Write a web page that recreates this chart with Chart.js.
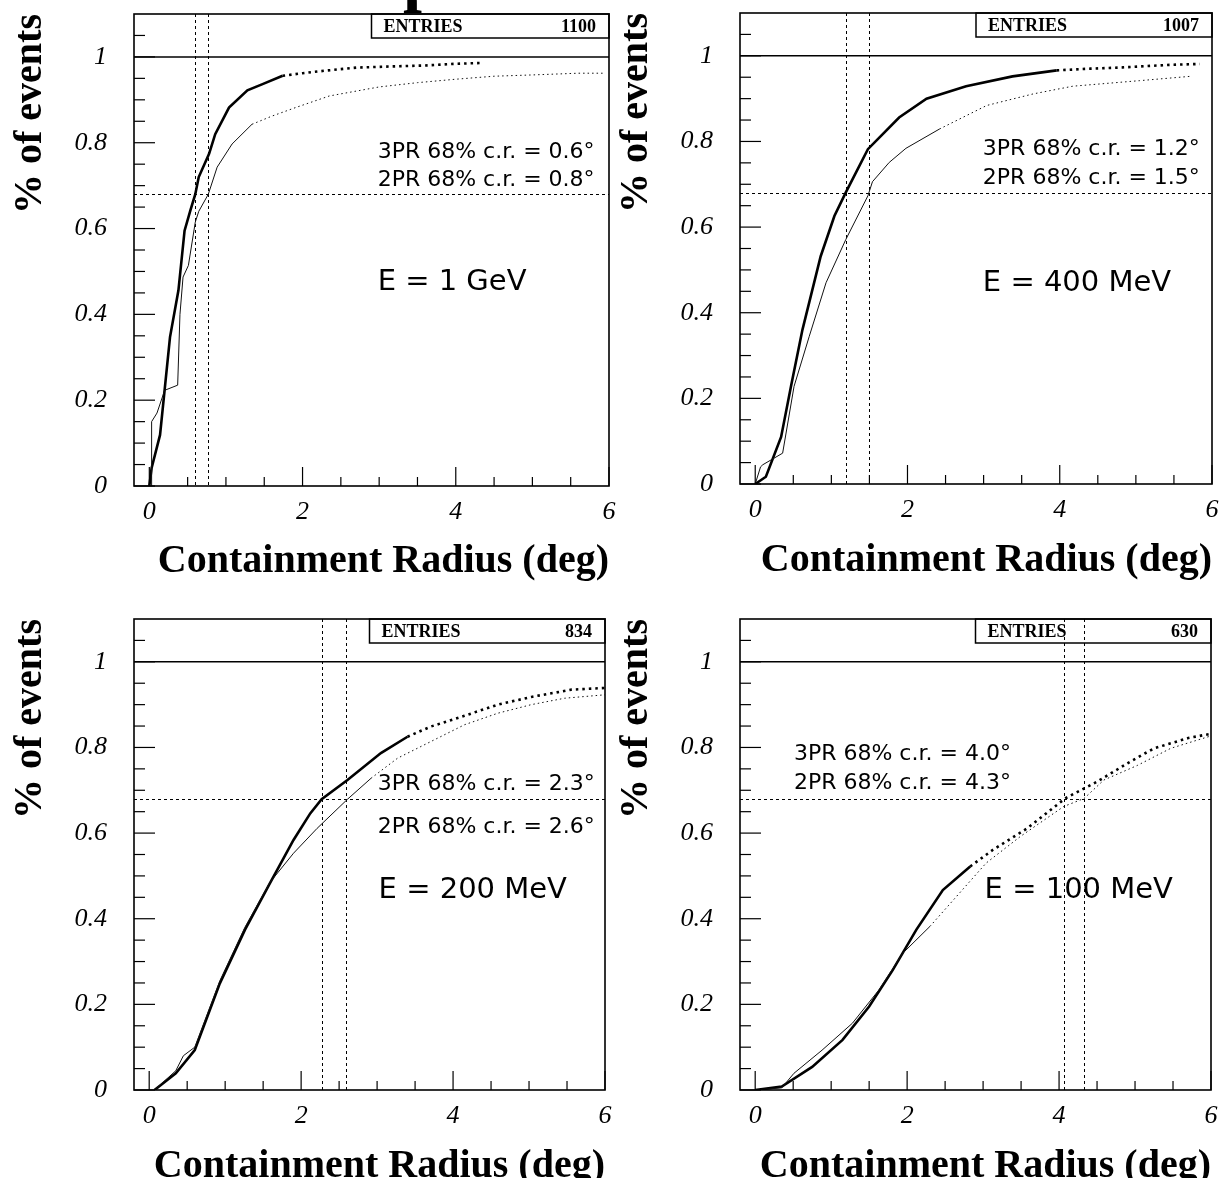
<!DOCTYPE html>
<html>
<head>
<meta charset="utf-8">
<script src="https://cdn.jsdelivr.net/npm/chart.js@4.4.0/dist/chart.umd.min.js"></script>
<style>
html,body{margin:0;padding:0;background:#fff;}
body{width:1222px;height:1178px;overflow:hidden;position:relative;}
canvas{position:absolute;}
#ttl{position:absolute;left:403px;top:-58px;font:bold 68px "Liberation Serif";line-height:68px;color:#000;}
</style>
</head>
<body>
<div id="ttl">p</div>
<canvas id="c0" width="640" height="589"></canvas>
<canvas id="c1" width="640" height="589"></canvas>
<canvas id="c2" width="640" height="589"></canvas>
<canvas id="c3" width="640" height="589"></canvas>
<script>
// ---------- data ----------
const xTickVals = [0, 2, 4, 6];
const xTickLabels = ['0', '2', '4', '6'];
const yTickVals = [0, 0.2, 0.4, 0.6, 0.8, 1];
const yTickLabels = ['0', '0.2', '0.4', '0.6', '0.8', '1'];

const energyLabels = ['E = 1 GeV', 'E = 400 MeV', 'E = 200 MeV', 'E = 100 MeV'];
const entries = ['1100', '1007', '834', '630'];
const cr3Text = ['0.6', '1.2', '2.3', '4.0'];
const cr2Text = ['0.8', '1.5', '2.6', '4.3'];
const cr3Line = [0.6, 1.19, 2.27, 4.07];
const cr2Line = [0.76, 1.49, 2.59, 4.33];
const level68 = 0.68;

// E = 1 GeV
const r3_1GeV_x = [0, 0.03, 0.14, 0.27, 0.38, 0.46, 0.535, 0.60, 0.645, 0.78, 0.86, 1.04, 1.28, 1.47, 1.74, 2.0, 2.3, 2.7, 3.2, 3.6, 4.0, 4.35];
const r3_1GeV_y = [0, 0.042, 0.119, 0.347, 0.456, 0.595, 0.642, 0.68, 0.72, 0.774, 0.82, 0.882, 0.922, 0.936, 0.956, 0.962, 0.968, 0.975, 0.978, 0.98, 0.984, 0.986];
const r2_1GeV_x = [0, 0.03, 0.03, 0.1, 0.2, 0.37, 0.40, 0.44, 0.51, 0.60, 0.645, 0.77, 0.885, 1.08, 1.34, 1.6, 1.91, 2.35, 3.0, 3.5, 4.0, 4.5, 5.0, 5.6, 5.95];
const r2_1GeV_y = [0, 0, 0.15, 0.17, 0.223, 0.235, 0.40, 0.487, 0.514, 0.615, 0.64, 0.68, 0.743, 0.797, 0.843, 0.862, 0.882, 0.909, 0.93, 0.94, 0.948, 0.955, 0.958, 0.962, 0.962];

// E = 400 MeV
const r3_400_x = [0, 0.14, 0.34, 0.47, 0.62, 0.86, 1.04, 1.19, 1.48, 1.89, 2.25, 2.77, 3.38, 3.96, 4.4, 4.83, 5.45, 5.84];
const r3_400_y = [0, 0.017, 0.11, 0.228, 0.36, 0.532, 0.626, 0.681, 0.782, 0.856, 0.90, 0.929, 0.952, 0.966, 0.97, 0.973, 0.979, 0.981];
const r2_400_x = [0, 0.07, 0.1, 0.36, 0.51, 0.71, 0.93, 1.19, 1.48, 1.54, 1.76, 1.98, 2.42, 3.04, 3.65, 4.17, 5.05, 5.71];
const r2_400_y = [0, 0.04, 0.045, 0.072, 0.228, 0.345, 0.47, 0.571, 0.673, 0.706, 0.751, 0.784, 0.829, 0.884, 0.911, 0.929, 0.942, 0.952];

// E = 200 MeV
const r3_200_x = [0.07, 0.35, 0.60, 0.93, 1.26, 1.59, 1.90, 2.12, 2.27, 2.61, 3.05, 3.40, 3.71, 4.15, 4.59, 5.03, 5.56, 6.0];
const r3_200_y = [0, 0.039, 0.093, 0.249, 0.374, 0.483, 0.584, 0.646, 0.679, 0.724, 0.787, 0.825, 0.849, 0.874, 0.90, 0.918, 0.935, 0.939];
const r2_200_x = [0.07, 0.35, 0.45, 0.60, 0.93, 1.26, 1.59, 1.90, 2.21, 2.61, 2.92, 3.27, 3.71, 4.15, 4.59, 5.03, 5.47, 6.0];
const r2_200_y = [0, 0.045, 0.08, 0.10, 0.255, 0.38, 0.485, 0.553, 0.611, 0.679, 0.728, 0.775, 0.814, 0.853, 0.88, 0.90, 0.915, 0.923];

// E = 100 MeV
const r3_100_x = [0, 0.35, 0.75, 1.15, 1.50, 1.81, 2.12, 2.47, 2.83, 3.13, 3.58, 4.08, 4.50, 4.90, 5.25, 5.70, 6.0];
const r3_100_y = [0, 0.008, 0.054, 0.117, 0.195, 0.28, 0.374, 0.467, 0.522, 0.561, 0.611, 0.681, 0.72, 0.763, 0.798, 0.822, 0.832];
const r2_100_x = [0, 0.35, 0.51, 0.88, 1.28, 1.63, 1.94, 2.30, 2.65, 3.04, 3.49, 4.06, 4.33, 4.59, 5.03, 5.47, 6.0];
const r2_100_y = [0, 0.005, 0.039, 0.093, 0.156, 0.234, 0.319, 0.382, 0.452, 0.53, 0.592, 0.662, 0.681, 0.724, 0.758, 0.798, 0.827];

// ---------- layout ----------
const CW = 640, CH = 589;
const frames = [[134, 14, 609, 486], [740, 13, 1212, 484], [134, 619, 605, 1090], [740, 619, 1211, 1090]];
const series = [
  [r3_1GeV_x, r3_1GeV_y, r2_1GeV_x, r2_1GeV_y],
  [r3_400_x, r3_400_y, r2_400_x, r2_400_y],
  [r3_200_x, r3_200_y, r2_200_x, r2_200_y],
  [r3_100_x, r3_100_y, r2_100_x, r2_100_y]
];
const tails = [[1.74, 1.34], [3.4, 2.0], [3.4, 2.9], [2.5, 2.0]];
// annotation anchors in data units: [x3PR, y3PR, y2PR, xE, yE]
const notes = [
  [2.98, 0.777, 0.712, 2.98, 0.474],
  [2.99, 0.782, 0.714, 2.99, 0.468],
  [3.01, 0.715, 0.614, 3.02, 0.467],
  [0.51, 0.783, 0.717, 3.02, 0.467]
];

function seg(ctx, x1, y1, x2, y2) { ctx.beginPath(); ctx.moveTo(x1, y1); ctx.lineTo(x2, y2); ctx.stroke(); }

const pawPlugin = {
  id: 'paw',
  beforeDatasetsDraw(chart, args, o) {
    const { ctx, chartArea: a, scales: { x, y } } = chart;
    ctx.save();
    ctx.strokeStyle = '#000';
    ctx.lineWidth = 1;
    ctx.setLineDash([3, 3]);
    const yy = Math.round(y.getPixelForValue(level68)) + 0.5;
    seg(ctx, a.left, yy, a.right, yy);
    [cr3Line[o.i], cr2Line[o.i]].forEach(v => {
      const xx = Math.round(x.getPixelForValue(v)) + 0.5;
      seg(ctx, xx, a.top, xx, a.bottom);
    });
    ctx.restore();
  },
  afterDraw(chart, args, o) {
    const { ctx, chartArea: a, scales: { x, y } } = chart;
    const i = o.i;
    ctx.save();
    ctx.strokeStyle = '#000';
    ctx.fillStyle = '#000';
    ctx.lineWidth = 1.5;
    const y1 = y.getPixelForValue(1);
    seg(ctx, a.left, y1, a.right, y1);
    ctx.lineWidth = 1.2;
    for (let k = 0; k <= 21; k++) {
      const p = y.getPixelForValue(k * 0.05);
      seg(ctx, a.left, p, a.left + (k % 4 === 0 ? 21 : 11), p);
    }
    for (let k = 0; k <= 12; k++) {
      const p = x.getPixelForValue(k * 0.5);
      seg(ctx, p, a.bottom, p, a.bottom - (k % 4 === 0 ? 19 : 9));
    }
    ctx.lineWidth = 1.6;
    ctx.strokeRect(a.left, a.top, a.right - a.left, a.bottom - a.top);
    const bx = a.left + (a.right - a.left) * 0.5, bh = 24;
    ctx.lineWidth = 1.5;
    ctx.strokeRect(bx, a.top, a.right - bx, bh);
    ctx.font = 'bold 18px "Liberation Serif"';
    ctx.textBaseline = 'middle';
    ctx.textAlign = 'left';
    ctx.fillText('ENTRIES', bx + 12, a.top + bh / 2 + 1);
    ctx.textAlign = 'right';
    ctx.fillText(entries[i], a.right - 13, a.top + bh / 2 + 1);
    const n = notes[i];
    ctx.textAlign = 'left';
    ctx.font = '22px "DejaVu Sans"';
    ctx.fillText('3PR 68% c.r. = ' + cr3Text[i] + '\u00b0', x.getPixelForValue(n[0]), y.getPixelForValue(n[1]));
    ctx.fillText('2PR 68% c.r. = ' + cr2Text[i] + '\u00b0', x.getPixelForValue(n[0]), y.getPixelForValue(n[2]));
    ctx.font = '29px "DejaVu Sans"';
    ctx.fillText(energyLabels[i], x.getPixelForValue(n[3]), y.getPixelForValue(n[4]));
    ctx.restore();
  }
};

function zeroPad(sc) { sc.paddingTop = 0; sc.paddingBottom = 0; sc.paddingLeft = 0; sc.paddingRight = 0; }

frames.forEach((f, i) => {
  const [L, T, R, B] = f;
  const cv = document.getElementById('c' + i);
  cv.style.left = (L - 134) + 'px';
  cv.style.top = (T - 14) + 'px';
  const rp = CW - 134 - (R - L);
  const xh = CH - 14 - (B - T);
  const s = series[i];
  const tl = tails[i];
  const pts = (xs, ys) => xs.map((v, k) => ({ x: v, y: ys[k] }));
  new Chart(cv, {
    type: 'scatter',
    data: {
      datasets: [
        {
          label: '2PR', data: pts(s[2], s[3]), showLine: true, pointRadius: 0,
          borderColor: '#111', borderWidth: 1, tension: 0, fill: false,
          segment: { borderDash: c => (c.p0.parsed.x >= tl[1] ? [1.5, 3] : undefined) }
        },
        {
          label: '3PR', data: pts(s[0], s[1]), showLine: true, pointRadius: 0,
          borderColor: '#000', borderWidth: 2.6, tension: 0, fill: false,
          segment: { borderDash: c => (c.p0.parsed.x >= tl[0] ? [2.5, 4] : undefined) }
        }
      ]
    },
    options: {
      responsive: false,
      animation: false,
      events: [],
      layout: { padding: { left: 0, top: 14, right: rp, bottom: 0 } },
      plugins: { legend: { display: false }, tooltip: { enabled: false }, paw: { i: i } },
      scales: {
        x: {
          type: 'linear', min: -0.2, max: 6,
          grid: { display: false, drawTicks: false, tickLength: 0 },
          border: { display: false },
          afterBuildTicks: sc => { sc.ticks = xTickVals.map(v => ({ value: v })); },
          afterFit: sc => { sc.height = xh; zeroPad(sc); },
          ticks: {
            color: '#000', padding: 11, maxRotation: 0, autoSkip: false,
            font: { family: 'Liberation Serif', size: 26, style: 'italic' },
            callback: (v, k) => xTickLabels[k]
          },
          title: {
            display: true, text: 'Containment Radius (deg)', align: 'end', color: '#000',
            font: { family: 'Liberation Serif', size: 40, weight: 'bold' },
            padding: { top: 0, bottom: 3 }
          }
        },
        y: {
          type: 'linear', min: 0, max: 1.1,
          grid: { display: false, drawTicks: false, tickLength: 0 },
          border: { display: false },
          afterBuildTicks: sc => { sc.ticks = yTickVals.map(v => ({ value: v })); },
          afterFit: sc => { sc.width = 134; zeroPad(sc); },
          ticks: {
            color: '#000', padding: 27, autoSkip: false,
            font: { family: 'Liberation Serif', size: 26, style: 'italic' },
            callback: (v, k) => yTickLabels[k]
          },
          title: {
            display: true, text: '% of events', align: 'end', color: '#000',
            font: { family: 'Liberation Serif', size: 40, weight: 'bold' },
            padding: { top: 7, bottom: 0 }
          }
        }
      }
    },
    plugins: [pawPlugin]
  });
});
</script>
</body>
</html>
